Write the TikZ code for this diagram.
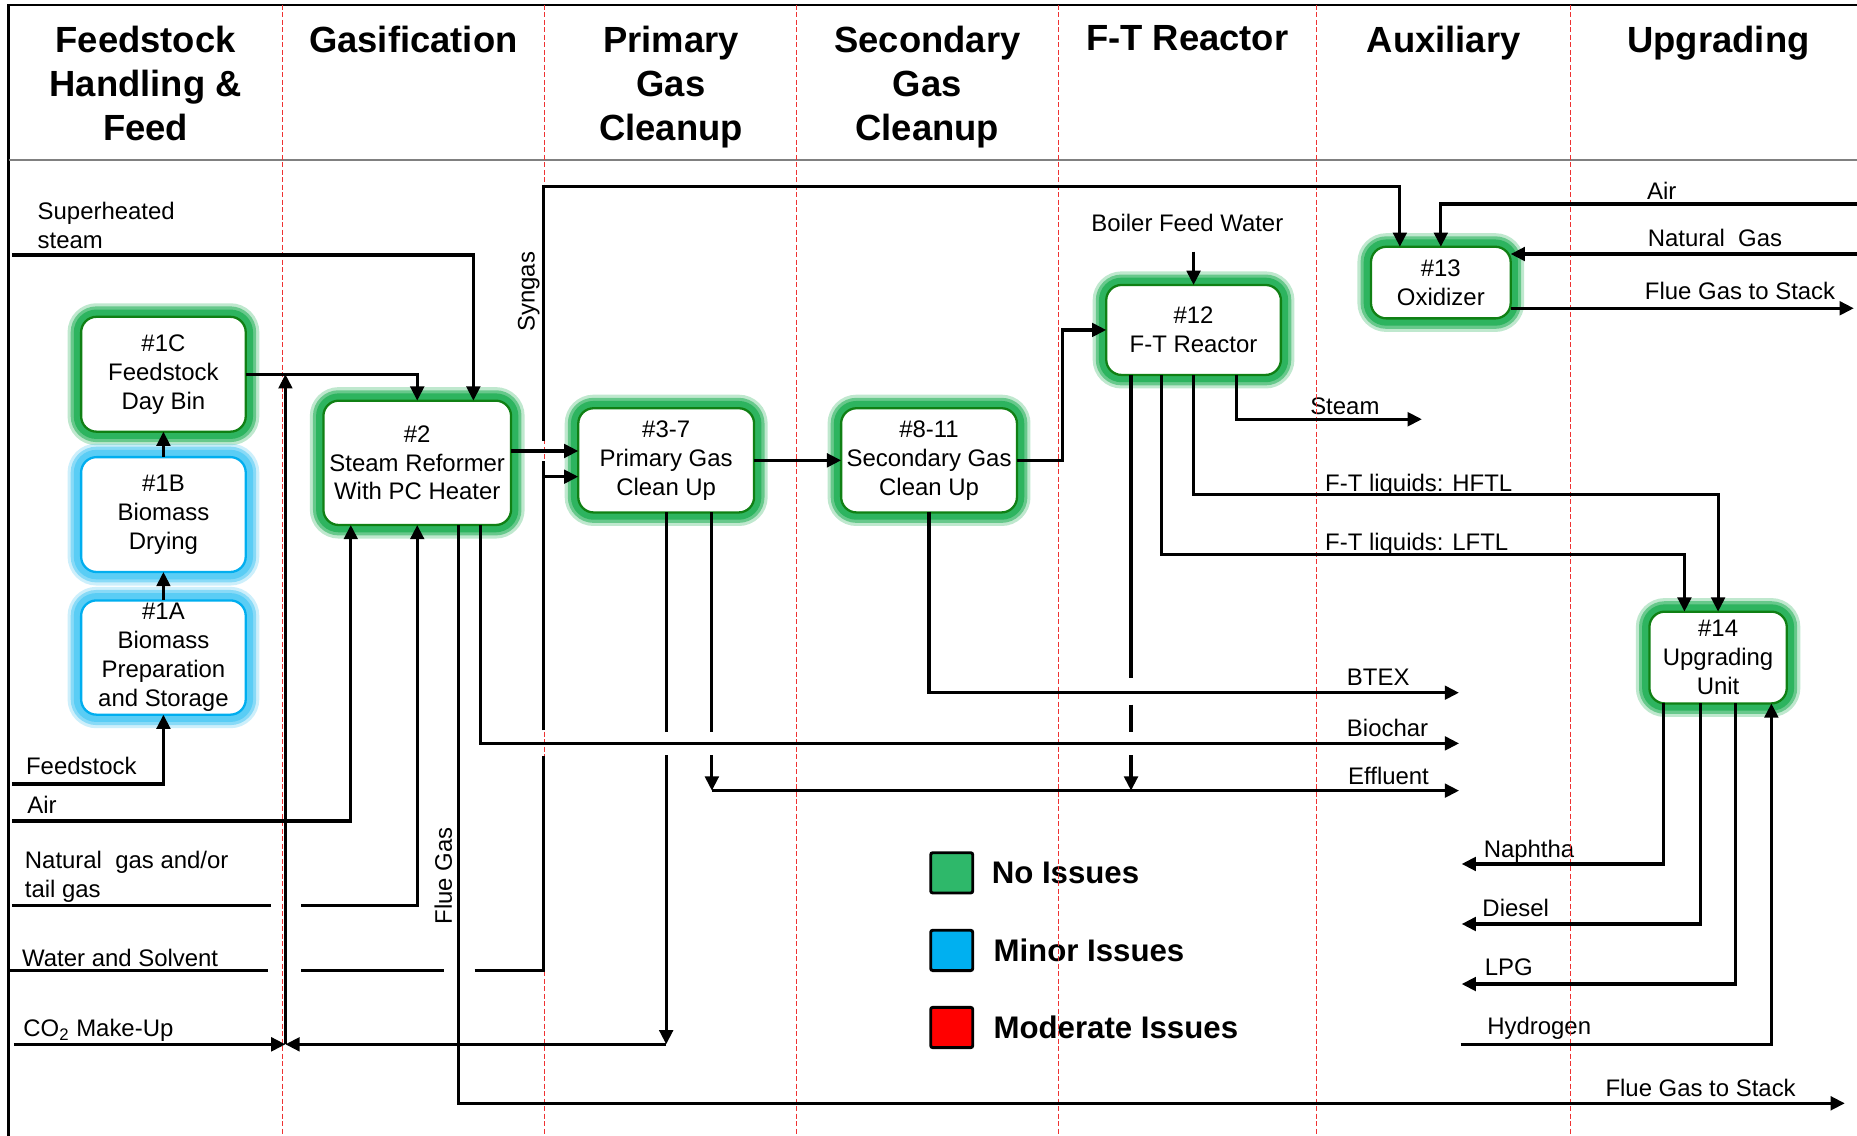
\documentclass[tikz,border=0pt]{standalone}
\usepackage{fontspec}
\setmainfont{Liberation Sans}
\usepackage{xcolor}
\usepackage{tikz}
\usetikzlibrary{
  positioning,
  arrows.meta,
  calc
}
\definecolor{glowgreen}{RGB}{45,180,95}
\definecolor{edgegreen}{RGB}{16,128,20}
\definecolor{glowblue}{RGB}{90,205,245}
\definecolor{edgeblue}{RGB}{0,174,239}
\definecolor{okgreen}{RGB}{46,184,106}
\definecolor{minorblue}{RGB}{0,176,240}
\definecolor{modred}{RGB}{255,0,0}
\definecolor{lanered}{RGB}{238,50,50}
\newcommand{\unitfont}{\fontsize{11.5}{13.9}\selectfont}
\newcommand{\lanefont}{\fontsize{17.5}{21.3}\selectfont\bfseries}
\newcommand{\legfont}{\fontsize{15}{18}\selectfont\bfseries}
\tikzset{
  >={Triangle[length=2.4mm,width=2.3mm]},
  pipe/.style={line width=1.5pt},
  flow/.style={pipe,->},
  glow/.style={preaction={draw=#1,line width=13pt,opacity=0.3},
               preaction={draw=#1,line width=10pt,opacity=0.6},
               preaction={draw=#1,line width=7pt}},
  procunit/.style={rectangle,rounded corners=2.6mm,fill=white,line width=1.1pt,
    align=center,inner sep=0pt,outer sep=0pt,font=\unitfont},
  unitok/.style={procunit,draw=edgegreen,glow=glowgreen},
  unitminor/.style={procunit,draw=edgeblue,glow=glowblue},
  lanetitle/.style={anchor=north,align=center,inner sep=0pt,font=\lanefont},
  lane/.style={draw=lanered,line width=0.6pt,dash pattern=on 2.4pt off 1.2pt},
  stream/.style={anchor=base west,inner sep=0pt,font=\unitfont},
  legbox/.style={rectangle,draw,line width=1.4pt,rounded corners=1pt,
    minimum width=0.71cm,minimum height=0.68cm},
  legtext/.style={inner sep=0pt,font=\legfont}
}

\begin{document}
\begin{tikzpicture}[x=0.02cm, y=-0.02cm]
  \path[use as bounding box, fill=white] (0,0) rectangle (1568,959);
  % frame and lane titles
  \draw[line width=1.2pt] (7.3,959) -- (7.3,4.2) -- (1568,4.2);
  \draw[gray, line width=1pt] (7.3,135) -- (1568,135);
  \node[lanetitle] (tfeed) at (123,21.5) {Feedstock\\Handling \&\\Feed};
  \node[lanetitle] (tgasif) at (349,21.5) {Gasification};
  \node[lanetitle] (tpgc) at (566.5,21.5) {Primary\\Gas\\Cleanup};
  \node[lanetitle] (tsgc) at (783,21.5) {Secondary\\Gas\\Cleanup};
  \node[lanetitle] (tft) at (1002.5,21.5) {F-T Reactor};
  \node[lanetitle] (taux) at (1219,21.5) {Auxiliary};
  \node[lanetitle] (tupg) at (1451,21.5) {Upgrading};

  % stream labels
  \node[stream, anchor=north west, align=left] (lsteam) at (31.5,170) {Superheated\\steam};
  \node[stream] (lfeed) at (21.7,653.6) {Feedstock};
  \node[stream] (lair) at (22.7,686.8) {Air};
  \node[stream, anchor=north west, align=left] (lng) at (20.7,718.4) {Natural\ \ gas and/or\\tail gas};
  \node[stream] (lws) at (18.4,816.2) {Water and Solvent};
  \node[stream] (lco2) at (19.4,875.4) {CO\textsubscript{2} Make-Up};
  \node[stream, anchor=base, rotate=90] (lsyn) at (451.4,246.3) {Syngas};
  \node[stream, anchor=base, rotate=90] (lflue) at (381.5,739.5) {Flue Gas};
  \node[stream, anchor=base] (lbfw) at (1002.5,195.5) {Boiler Feed Water};
  \node[stream] (lst) at (1106,350) {Steam};
  \node[stream] (lhftl) at (1118.6,414.6) {F-T liquids: HFTL};
  \node[stream] (llftl) at (1118.6,465) {F-T liquids: LFTL};
  \node[stream] (lbtex) at (1137,578.4) {BTEX};
  \node[stream] (lchar) at (1137,621.5) {Biochar};
  \node[stream] (leff) at (1138,662.8) {Effluent};
  \node[stream] (lnap) at (1252.5,723.9) {Naphtha};
  \node[stream] (ldie) at (1251.4,774) {Diesel};
  \node[stream] (llpg) at (1253.4,823.3) {LPG};
  \node[stream] (lh2) at (1255.5,873.1) {Hydrogen};
  \node[stream] (lstack) at (1355.3,926) {Flue Gas to Stack};
  \node[stream] (lair13) at (1390.4,168.3) {Air};
  \node[stream] (lng13) at (1391,208.3) {Natural\ \ Gas};
  \node[stream] (lstack13) at (1388.6,253.3) {Flue Gas to Stack};

  % legend
  \node[legbox, fill=okgreen] (kok) at (803.6,737) {};
  \node[legbox, fill=minorblue] (kminor) at (803.6,802.5) {};
  \node[legbox, fill=modred] (kmod) at (803.6,867.6) {};
  \node[legtext, right=0.29cm of kok] (lok) {No Issues};
  \node[legtext, right=0.32cm of kminor] (lminor) {Minor Issues};
  \node[legtext, right=0.32cm of kmod] (lmod) {Moderate Issues};

  % lane separators
  \foreach \lx in {238.7,459.8,672.6,894,1111.8,1326.2}
    \draw[lane] (\lx,4.2) -- (\lx,959);

  % process units
  \node[unitok, minimum width=2.78cm, minimum height=1.94cm] (n1c) at (138,316) {\#1C\\Feedstock\\Day Bin};
  \node[unitminor, minimum width=2.78cm, minimum height=1.94cm, below=0.43cm of n1c] (n1b) {\#1B\\Biomass\\Drying};
  \node[unitminor, minimum width=2.78cm, minimum height=1.93cm, below=0.48cm of n1b] (n1a) {\#1A\\Biomass\\Preparation\\and Storage};
  \node[unitok, minimum width=3.17cm, minimum height=2.1cm] (n2) at (352.3,390.8) {\#2\\Steam Reformer\\With PC Heater};
  \node[unitok, minimum width=2.97cm, minimum height=1.76cm] (n37) at (562.5,388.7) {\#3-7\\Primary Gas\\Clean Up};
  \node[unitok, minimum width=2.97cm, minimum height=1.76cm, right=1.47cm of n37] (n811) {\#8-11\\Secondary Gas\\Clean Up};
  \node[unitok, minimum width=2.95cm, minimum height=1.52cm] (n12) at (1007.8,278.6) {\#12\\F-T Reactor};
  \node[unitok, minimum width=2.36cm, minimum height=1.21cm] (n13) at (1216.6,238.6) {\#13\\Oxidizer};
  \node[unitok, minimum width=2.32cm, minimum height=1.55cm] (n14) at (1450.7,555.2) {\#14\\Upgrading\\Unit};

  % trunk positions and stream levels
  \coordinate (xair) at (296.2,0);
  \coordinate (xsteam) at (399.7,0);
  \coordinate (xflue) at (387.3,0);
  \coordinate (xchar) at (405.6,0);
  \coordinate (xco2) at (241,0);
  \coordinate (xsg) at (459,0);
  \coordinate (x37) at (601.1,0);
  \coordinate (xft) at (897.3,0);
  \coordinate (xeff) at (955,0);
  \coordinate (xlftl) at (980.7,0);
  \coordinate (xst) at (1043.9,0);
  \coordinate (xsg13) at (1182,0);
  \coordinate (xlftl14) at (1422.3,0);
  \coordinate (xnap) at (1404.7,0);
  \coordinate (xdie) at (1435.6,0);
  \coordinate (xlpg) at (1465.1,0);
  \coordinate (xh2) at (1495.7,0);
  \coordinate (ysgtop) at (0,157.6);
  \coordinate (ysyn) at (0,380.8);
  \coordinate (yws) at (0,402.5);
  \coordinate (yhftl) at (0,417.4);
  \coordinate (ylftl) at (0,468);
  % free ends
  \coordinate (steamin) at (10,215.3);
  \coordinate (feedin) at (10,662);
  \coordinate (airin) at (10,693.2);
  \coordinate (ngin) at (10,764.7);
  \coordinate (wsin) at (8.3,819.6);
  \coordinate (co2in) at (11.7,881.8);
  \coordinate (bfwin) at (1007.8,212.5);
  \coordinate (steamout) at (1200.6,354);
  \coordinate (btexout) at (1231.9,584.9);
  \coordinate (charout) at (1232,627.7);
  \coordinate (effout) at (1232,667.6);
  \coordinate (flueout) at (1557.7,931.6);
  \coordinate (airr) at (1568,172.3);
  \coordinate (ngr) at (1568,214.5);
  \coordinate (stackr) at (1565.3,260.3);
  \coordinate (napout) at (1234.2,729.5);
  \coordinate (dieout) at (1234.2,780.2);
  \coordinate (lpgout) at (1234.2,830.9);
  \coordinate (h2in) at (1233.2,881.8);

  % feeds into the front end
  \draw[flow] (feedin) -| (n1a.south);
  \draw[flow] (n1a) -- (n1b);
  \draw[flow] (n1b) -- (n1c);
  \draw[flow] (n1c.east) -| (n2.north);
  \draw[flow] (steamin) -| (n2.north -| xsteam);
  \draw[flow] (airin) -| (n2.south -| xair);
  \draw[pipe] (ngin) -- ([xshift=-0.25cm]xco2 |- ngin);
  \draw[flow] ([xshift=0.27cm]xco2 |- ngin) -| (n2.south);
  \draw[pipe] (wsin) -- ([xshift=-0.29cm]xco2 |- wsin);
  \draw[pipe] ([xshift=0.27cm]xco2 |- wsin) -- ([xshift=-0.25cm]xflue |- wsin);
  \draw[pipe] ([xshift=0.27cm]xflue |- wsin) -| ([yshift=-0.22cm]xsg |- charout);
  \draw[pipe] ([yshift=0.22cm]xsg |- charout) -- ([yshift=-0.17cm]xsg |- ysyn);
  \draw[flow] ([yshift=0.17cm]xsg |- ysyn) |- (xsg13 |- ysgtop) -- (n13.north -| xsg13);
  \draw[flow] (xsg |- yws) -- (n37.west |- yws);
  \draw[flow] (co2in) -- (xco2 |- co2in);
  \draw[flow] (xco2 |- co2in) -- (xco2 |- n1c.east);

  % syngas train
  \draw[flow] (n2.east |- ysyn) -- (n37.west |- ysyn);
  \draw[flow] (n37) -- (n811);
  \draw[flow] (n811.east) -| (xft |- n12.west) -- (n12.west);
  \draw[flow] (bfwin) -- (n12.north);

  % residues and by-products
  \draw[flow] (n2.south -| xchar) |- (charout);
  \draw[flow] (n2.south -| xflue) |- (flueout);
  \draw[pipe] (n37.south) -- ([yshift=0.2cm]n37.south |- charout);
  \draw[flow] ([yshift=-0.2cm]n37.south |- charout) -- (n37.south |- co2in);
  \draw[flow] (n37.south |- co2in) -- (xco2 |- co2in);
  \draw[pipe] (n37.south -| x37) -- ([yshift=0.2cm]x37 |- charout);
  \draw[flow] ([yshift=-0.2cm]x37 |- charout) -- (x37 |- effout);
  \draw[flow] (x37 |- effout) -- (effout);
  \draw[flow] (n811.south) |- (btexout);
  \draw[pipe] (n12.south -| xeff) -- ([yshift=0.25cm]xeff |- btexout);
  \draw[pipe] ([yshift=-0.2cm]xeff |- btexout) -- ([yshift=0.2cm]xeff |- charout);
  \draw[flow] ([yshift=-0.2cm]xeff |- charout) -- (xeff |- effout);

  % F-T products
  \draw[flow] (n12.south -| xst) |- (steamout);
  \draw[flow] (n12.south) |- (n14.north |- yhftl) -- (n14.north);
  \draw[flow] (n12.south -| xlftl) |- (xlftl14 |- ylftl) -- (n14.north -| xlftl14);

  % oxidizer
  \draw[flow] (airr) -| (n13.north);
  \draw[flow] (ngr) -- (n13.east |- ngr);
  \draw[flow] (n13.east |- stackr) -- (stackr);

  % upgrading products
  \draw[flow] (n14.south -| xnap) |- (napout);
  \draw[flow] (n14.south -| xdie) |- (dieout);
  \draw[flow] (n14.south -| xlpg) |- (lpgout);
  \draw[flow] (h2in) -| (n14.south -| xh2);
\end{tikzpicture}
\end{document}
